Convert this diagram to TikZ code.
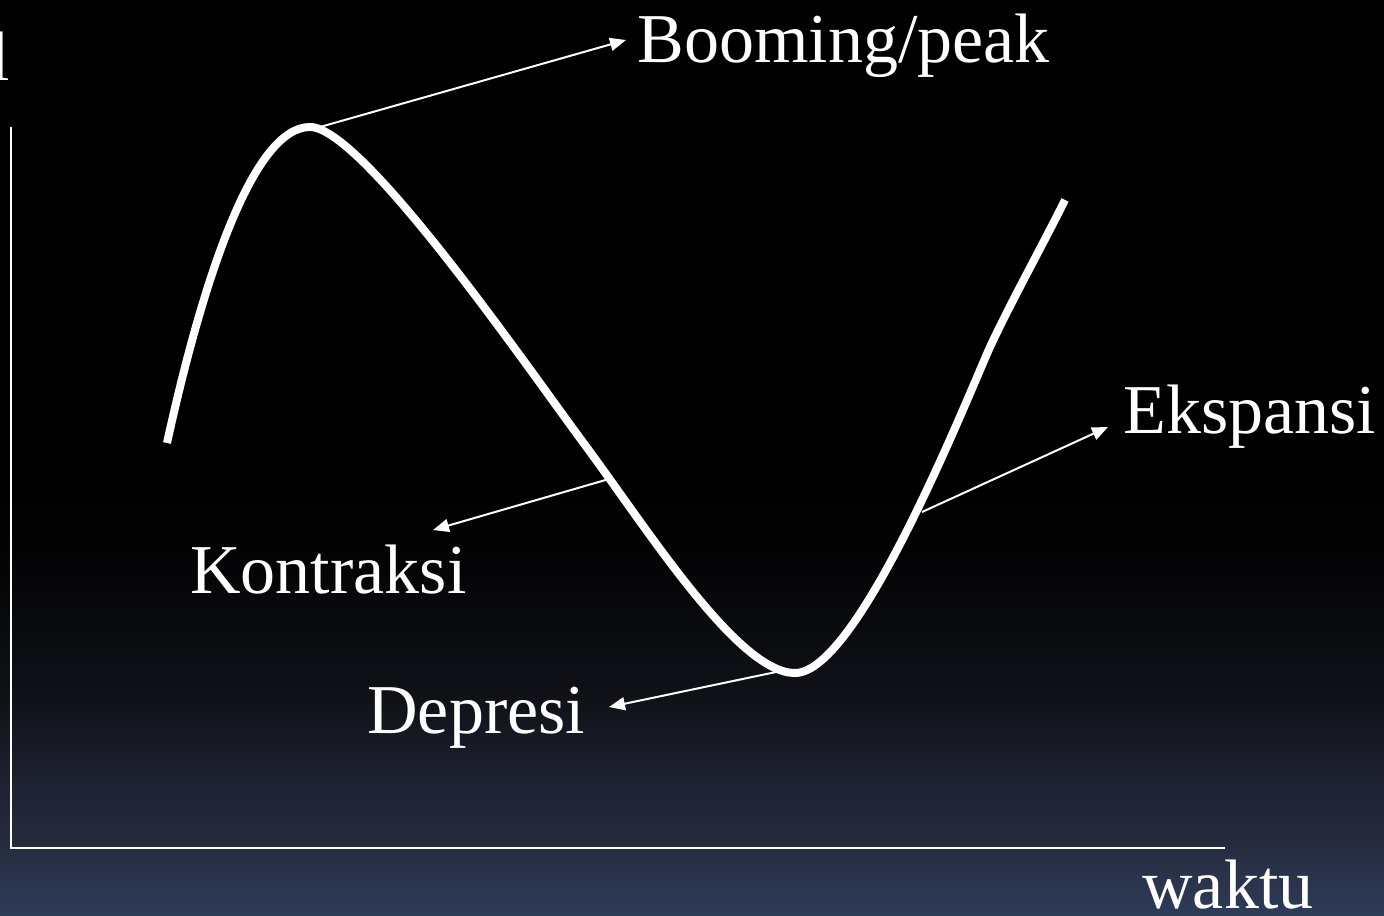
\documentclass[tikz,border=0pt]{standalone}
\usepackage{fontspec}
\setmainfont{Liberation Serif}
\usetikzlibrary{arrows.meta}
\pgfdeclareverticalshading{bgshade}{100bp}{rgb(0bp)=(0.18,0.235,0.345); rgb(25bp)=(0.18,0.235,0.345); rgb(28.65bp)=(0.15,0.176,0.25); rgb(32.4bp)=(0.115,0.13,0.19); rgb(37bp)=(0.06,0.068,0.09); rgb(45bp)=(0.012,0.012,0.018); rgb(50bp)=(0,0,0); rgb(100bp)=(0,0,0)}
\begin{document}
\begin{tikzpicture}[x=0.5pt,y=-0.5pt,
 lbl/.style={text=white, inner sep=0pt, anchor=base west, font=\fontsize{35}{42}\selectfont},
 curveline/.style={white, line width=4pt},
 axisline/.style={white, line width=1pt},
 pointer/.style={white, line width=1pt, -{Triangle[length=8pt,width=6.5pt]}}]
\useasboundingbox (0,0) rectangle (1384,915);
\shade[shading=bgshade] (0,0) rectangle (1384,915);
% labels
\node[lbl] (boom) at (637,63) {Booming/peak};
\node[lbl] (eksp) at (1123,433) {Ekspansi};
\node[lbl] (kontr) at (190,593) {Kontraksi};
\node[lbl] (depr) at (367,733) {Depresi};
\node[lbl] (waktu) at (1142,908) {waktu};
\node[lbl] (ylab) at (-10,81) {l};
% axes
\coordinate (ytop) at (11,127);
\coordinate (orig) at (11,848);
\coordinate (xend) at (1225,848);
\draw[axisline] (ytop) -- (orig) -- (xend);
% curve
\coordinate (c0) at (167,443);
\coordinate (peak) at (310,127);
\coordinate (mid) at (585,445);
\coordinate (trough) at (795,673);
\coordinate (kink) at (990,347);
\coordinate (cend) at (1065,200);
\draw[curveline] (c0) .. controls (205,270) and (255,127) .. (peak)
  .. controls (362,127) and (525,364) .. (mid)
  .. controls (648,530) and (738,673) .. (trough)
  .. controls (858,673) and (965,403) .. (kink)
  .. controls (1012,300) and (1040,250) .. (cend);
% pointer ends
\coordinate (pk) at (320,127);
\coordinate (pkt) at (626,40);
\coordinate (kt) at (609,479);
\coordinate (ktt) at (433,530);
\coordinate (dp) at (776,672);
\coordinate (dpt) at (609,707);
\coordinate (ek) at (922,512);
\coordinate (ekt) at (1108,427);
\draw[pointer] (pk) -- (pkt);
\draw[pointer] (kt) -- (ktt);
\draw[pointer] (dp) -- (dpt);
\draw[pointer] (ek) -- (ekt);
\end{tikzpicture}
\end{document}
